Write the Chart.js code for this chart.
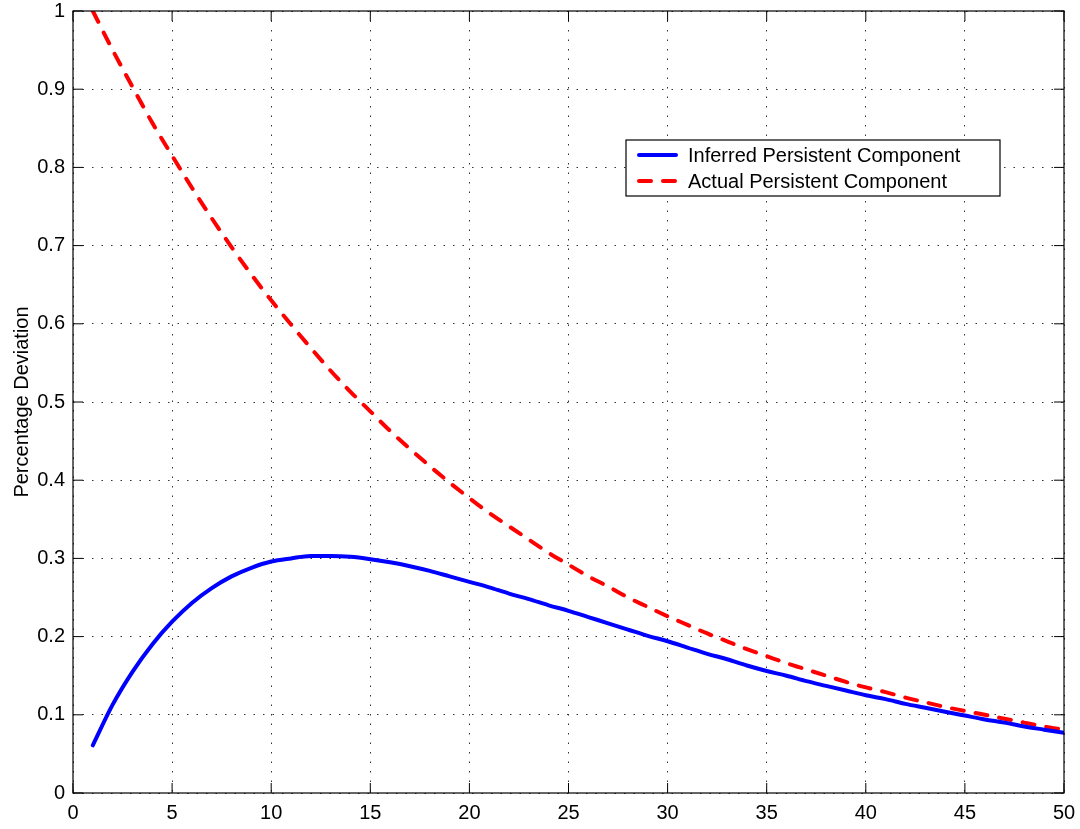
<!DOCTYPE html>
<html>
<head>
<meta charset="utf-8">
<script src="https://cdn.jsdelivr.net/npm/chart.js@4/dist/chart.umd.min.js"></script>
<style>
  html, body { margin: 0; padding: 0; background: #fff; }
  #wrap { width: 1080px; height: 829px; }
</style>
</head>
<body>
<div id="wrap"><canvas id="myChart" width="1080" height="829"></canvas></div>
<script>
// periods 1..50
const periods = [1, 2, 3, 4, 5, 6, 7, 8, 9, 10, 11, 12, 13, 14, 15, 16, 17, 18, 19, 20,
  21, 22, 23, 24, 25, 26, 27, 28, 29, 30, 31, 32, 33, 34, 35, 36, 37, 38, 39, 40,
  41, 42, 43, 44, 45, 46, 47, 48, 49, 50];

const inferred = [0.061, 0.113, 0.155, 0.190, 0.219, 0.243, 0.262, 0.277, 0.288, 0.296,
  0.300, 0.303, 0.303, 0.302, 0.299, 0.295, 0.290, 0.284, 0.277, 0.270,
  0.263, 0.255, 0.248, 0.240, 0.233, 0.225, 0.217, 0.209, 0.201, 0.194,
  0.186, 0.178, 0.171, 0.163, 0.156, 0.150, 0.143, 0.137, 0.131, 0.125,
  0.120, 0.114, 0.109, 0.104, 0.099, 0.094, 0.090, 0.085, 0.081, 0.077];

const actual = [1.000, 0.950, 0.903, 0.857, 0.815, 0.774, 0.735, 0.698, 0.663, 0.630,
  0.599, 0.569, 0.540, 0.513, 0.488, 0.463, 0.440, 0.418, 0.397, 0.377,
  0.358, 0.341, 0.324, 0.307, 0.292, 0.277, 0.264, 0.250, 0.238, 0.226,
  0.215, 0.204, 0.194, 0.184, 0.175, 0.166, 0.158, 0.150, 0.142, 0.135,
  0.129, 0.122, 0.116, 0.110, 0.105, 0.100, 0.095, 0.090, 0.085, 0.081];

const xTicks = [0, 5, 10, 15, 20, 25, 30, 35, 40, 45, 50];
const yTicks = [0, 0.1, 0.2, 0.3, 0.4, 0.5, 0.6, 0.7, 0.8, 0.9, 1];

const FONT = "'Liberation Sans', Arial, sans-serif";

// box round the axes with inward ticks, matlab style
const boxPlugin = {
  id: 'box',
  afterDraw(chart) {
    const { ctx, chartArea: a, scales } = chart;
    const len = 10;
    ctx.save();
    ctx.strokeStyle = '#000';
    ctx.lineWidth = 1.2;
    ctx.setLineDash([]);
    ctx.strokeRect(a.left, a.top, a.right - a.left, a.bottom - a.top);
    ctx.lineWidth = 1;
    ctx.beginPath();
    xTicks.forEach(v => {
      const px = scales.x.getPixelForValue(v);
      ctx.moveTo(px, a.bottom); ctx.lineTo(px, a.bottom - len);
      ctx.moveTo(px, a.top); ctx.lineTo(px, a.top + len);
    });
    yTicks.forEach(v => {
      const py = scales.y.getPixelForValue(v);
      ctx.moveTo(a.left, py); ctx.lineTo(a.left + len, py);
      ctx.moveTo(a.right, py); ctx.lineTo(a.right - len, py);
    });
    ctx.stroke();
    ctx.restore();
  }
};

// legend box inside the plot
const legendPlugin = {
  id: 'boxLegend',
  afterDraw(chart) {
    const { ctx } = chart;
    const x = 626, y = 140, w = 374, h = 56;
    ctx.save();
    ctx.fillStyle = '#fff';
    ctx.fillRect(x, y, w, h);
    ctx.strokeStyle = '#000';
    ctx.lineWidth = 1.2;
    ctx.setLineDash([]);
    ctx.strokeRect(x, y, w, h);
    ctx.font = '20px ' + FONT;
    ctx.textBaseline = 'middle';
    chart.data.datasets.forEach((ds, i) => {
      const ly = y + 15 + i * 26;
      ctx.strokeStyle = ds.borderColor;
      ctx.lineWidth = ds.borderWidth;
      ctx.lineCap = ds.borderCapStyle || 'butt';
      ctx.setLineDash(ds.borderDash || []);
      ctx.beginPath();
      ctx.moveTo(x + 13, ly);
      ctx.lineTo(x + 50, ly);
      ctx.stroke();
      ctx.fillStyle = '#000';
      ctx.fillText(ds.label, x + 62, ly + 1);
    });
    ctx.restore();
  }
};

const chart = document.querySelector('#myChart');
new Chart(chart, {
  type: 'line',
  data: {
    datasets: [
      {
        label: 'Inferred Persistent Component',
        data: periods.map((p, i) => ({ x: p, y: inferred[i] })),
        borderColor: '#0000ff',
        borderWidth: 4,
        borderCapStyle: 'round',
        borderJoinStyle: 'round',
        cubicInterpolationMode: 'monotone',
        pointRadius: 0,
      },
      {
        label: 'Actual Persistent Component',
        data: periods.map((p, i) => ({ x: p, y: actual[i] })),
        borderColor: '#ff0000',
        borderWidth: 4,
        borderDash: [12, 12],
        borderCapStyle: 'round',
        cubicInterpolationMode: 'monotone',
        pointRadius: 0,
      }
    ]
  },
  options: {
    responsive: false,
    animation: false,
    layout: { padding: { top: 11, right: 16, left: 0, bottom: 0 } },
    scales: {
      x: {
        type: 'linear',
        min: 0,
        max: 50,
        afterBuildTicks: s => { s.ticks = xTicks.map(v => ({ value: v })); },
        afterFit: s => { s.height = 36; s.paddingLeft = 0; s.paddingRight = 0; },
        border: { display: false, dash: [1.5, 8] },
        grid: {
          color: '#333',
          lineWidth: 1,
          drawTicks: false,
        },
        ticks: {
          color: '#000',
          padding: 8,
          maxRotation: 0,
          font: { family: FONT, size: 20 },
        },
      },
      y: {
        min: 0,
        max: 1,
        afterBuildTicks: s => { s.ticks = yTicks.map(v => ({ value: v })); },
        afterFit: s => { s.width = 73; s.paddingTop = 0; s.paddingBottom = 0; },
        border: { display: false, dash: [1.5, 8] },
        grid: {
          color: '#333',
          lineWidth: 1,
          drawTicks: false,
        },
        ticks: {
          color: '#000',
          padding: 8,
          font: { family: FONT, size: 20 },
          callback: v => String(v),
        },
        title: {
          display: true,
          text: 'Percentage Deviation',
          color: '#000',
          padding: { top: 10, bottom: 0 },
          font: { family: FONT, size: 20 },
        },
      },
    },
    plugins: {
      legend: { display: false },
      tooltip: { enabled: false },
    },
  },
  plugins: [boxPlugin, legendPlugin]
});
</script>
</body>
</html>
